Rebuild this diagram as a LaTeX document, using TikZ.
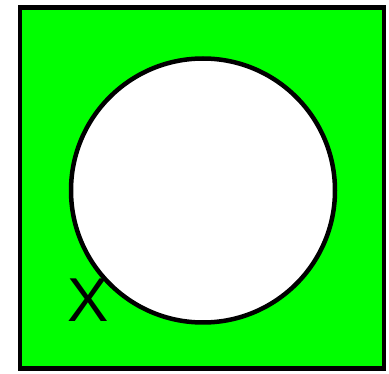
\documentclass[tikz,border=0pt]{standalone}
\usepackage{fontspec}
\setmainfont{Liberation Sans}
\definecolor{fieldgreen}{RGB}{0,255,0}
\begin{document}
\begin{tikzpicture}[x=1pt, y=-1pt, line width=4.5pt]
    \tikzstyle{field} = [draw=black, fill=fieldgreen]
    \tikzstyle{disc} = [draw=black, fill=white, circle, minimum size=264pt, inner sep=0pt]
    \tikzstyle{crosslabel} = [font=\fontsize{62}{62}\selectfont, inner sep=0pt]

    \useasboundingbox (0,0) rectangle (389,374);
    \node [field, minimum width=364pt, minimum height=361pt, inner sep=0pt] (box) at (202,188) {};
    \node [disc] (hole) at (203,190.5) {};
    \node [crosslabel] (cross) at (88,300) {X};
\end{tikzpicture}
\end{document}
